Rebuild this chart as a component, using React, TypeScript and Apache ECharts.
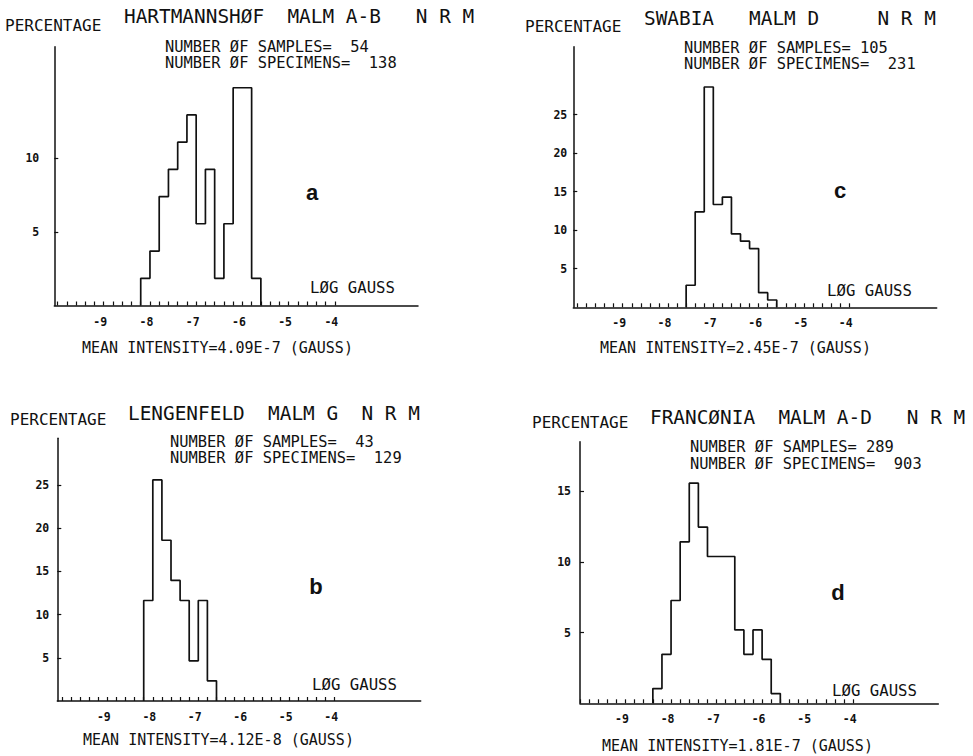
import React, { useEffect, useRef } from "react";
import * as echarts from "echarts";

// ---- Data (percentages per 0.2 log-gauss bin) ----
const binWidth = 0.2;
const aStart = -8.2;
const aValues = [1.85, 3.7, 7.41, 9.26, 11.11, 12.96, 5.56, 9.26, 1.85, 5.56, 14.81, 14.81, 1.85];
const bStart = -8.2;
const bValues = [11.63, 25.58, 18.6, 13.95, 11.63, 4.65, 11.63, 2.33];
const cStart = -7.6;
const cValues = [2.86, 12.38, 28.57, 13.33, 14.29, 9.52, 8.57, 7.62, 1.9, 0.95];
const dStart = -8.4;
const dValues = [1.04, 3.46, 7.27, 11.42, 15.57, 12.46, 10.38, 10.38, 10.38, 5.19, 3.46, 5.19, 3.11, 0.69];

const xTickLabels = [-9, -8, -7, -6, -5, -4];
const aYLabels = [5, 10];
const bYLabels = [5, 10, 15, 20, 25];
const cYLabels = [5, 10, 15, 20, 25];
const dYLabels = [5, 10, 15];

const titles = [
  "HARTMANNSHØF  MALM A-B   N R M",
  "LENGENFELD  MALM G  N R M",
  "SWABIA   MALM D     N R M",
  "FRANCØNIA  MALM A-D   N R M",
];
const sampleCounts = [54, 43, 105, 289];
const specimenCounts = [138, 129, 231, 903];
const meanIntensity = ["4.09E-7", "4.12E-8", "2.45E-7", "1.81E-7"];
const letters = ["a", "b", "c", "d"];

const FONT = "'DejaVu Sans Mono', monospace";
const INK = "#111";

function stepData(start: number, values: number[]) {
  const r = (v: number) => Math.round(v * 100) / 100;
  const pts: number[][] = [[start, 0]];
  values.forEach((v, i) => pts.push([r(start + i * binWidth), v]));
  pts.push([r(start + values.length * binWidth), 0]);
  return pts;
}

const minorTicks: number[] = [];
for (let i = 0; i <= 30; i++) minorTicks.push(Math.round((-10 + i * 0.2) * 10) / 10);

// layout per panel (a, b, c, d)
const grids = [
  { left: 54.3, top: 46.7, width: 363.7, height: 258.8, xmin: -10.07, xmax: -2.2, ymax: 17.6, yMargin: 15 },
  { left: 57.3, top: 438.3, width: 363.4, height: 262.7, xmin: -10.1, xmax: -2.11, ymax: 30.4, yMargin: 8 },
  { left: 573.3, top: 46.7, width: 363.4, height: 260.6, xmin: -10.09, xmax: -2.07, ymax: 33.8, yMargin: 6 },
  { left: 580, top: 441.7, width: 358.3, height: 261.6, xmin: -10.0, xmax: -2.13, ymax: 18.5, yMargin: 9 },
];
const textPos = [
  { perc: [5, 25], title: [124, 16], s: [165, 55, 16.6], letter: [312, 192], log: [310, 287], mean: [82, 348] },
  { perc: [10, 419], title: [128, 413], s: [170, 450, 16.6], letter: [316, 586], log: [312, 684], mean: [83, 740] },
  { perc: [525, 26], title: [644, 18], s: [684, 55.8, 16.6], letter: [840, 190], log: [827, 290], mean: [600, 348] },
  { perc: [532, 422], title: [650, 417], s: [690, 455.5, 17.5], letter: [838, 592], log: [832, 690], mean: [602, 746] },
];

const starts = [aStart, bStart, cStart, dStart];
const valuesList = [aValues, bValues, cValues, dValues];
const yLabelsList = [aYLabels, bYLabels, cYLabels, dYLabels];

function txt(x: number, y: number, text: string, size: number, opts: any = {}) {
  const style: any = {
    text,
    fill: INK,
    font: `${opts.weight || "normal"} ${size}px ${opts.family || FONT}`,
    textAlign: opts.align || "left",
    textVerticalAlign: "middle",
  };
  if (opts.lineHeight) style.lineHeight = opts.lineHeight;
  return { type: "text", x, y, silent: true, style };
}

export default function App() {
  const ref = useRef<HTMLDivElement>(null);
  useEffect(() => {
    if (!ref.current) return;
    const chart = echarts.init(ref.current, null, { renderer: "svg" });
    const graphic: any[] = [];
    textPos.forEach((p, i) => {
      graphic.push(txt(p.perc[0], p.perc[1], "PERCENTAGE", 16));
      graphic.push(txt(p.title[0], p.title[1], titles[i], 19.4));
      graphic.push(
        txt(
          p.s[0],
          p.s[1],
          `NUMBER ØF SAMPLES=${String(sampleCounts[i]).padStart(4)}\nNUMBER ØF SPECIMENS=  ${specimenCounts[i]}`,
          15.4,
          { lineHeight: p.s[2] }
        )
      );
      graphic.push(
        txt(p.letter[0], p.letter[1], letters[i], 22, {
          weight: "bold",
          family: "'Liberation Sans', Arial, sans-serif",
          align: "center",
        })
      );
      graphic.push(txt(p.log[0], p.log[1], "LØG GAUSS", 15.7));
      graphic.push(txt(p.mean[0], p.mean[1], `MEAN INTENSITY=${meanIntensity[i]} (GAUSS)`, 15));
    });

    const option: any = {
      animation: false,
      backgroundColor: "#fff",
      grid: grids.map((g) => ({ left: g.left, top: g.top, width: g.width, height: g.height, containLabel: false })),
      xAxis: grids.map((g, i) => ({
        gridIndex: i,
        type: "value",
        min: g.xmin,
        max: g.xmax,
        axisLine: { show: true, onZero: false, lineStyle: { color: INK, width: 1.5 } },
        axisTick: { show: true, inside: true, length: 4, customValues: minorTicks, lineStyle: { color: INK, width: 1.2 } },
        axisLabel: {
          show: true,
          customValues: xTickLabels,
          margin: 10,
          fontFamily: FONT,
          fontSize: 11.5,
          fontWeight: "bold",
          color: INK,
          padding: [0, 7, 0, 0],
          formatter: (v: number) => String(v),
        },
        splitLine: { show: false },
      })),
      yAxis: grids.map((g, i) => ({
        gridIndex: i,
        type: "value",
        min: 0,
        max: g.ymax,
        axisLine: { show: true, lineStyle: { color: INK, width: 1.5 } },
        axisTick: { show: true, inside: true, length: 4, customValues: yLabelsList[i], lineStyle: { color: INK, width: 1.2 } },
        axisLabel: {
          show: true,
          customValues: yLabelsList[i],
          margin: g.yMargin,
          fontFamily: FONT,
          fontSize: 11.5,
          fontWeight: "bold",
          color: INK,
        },
        splitLine: { show: false },
      })),
      series: grids.map((_, i) => ({
        type: "line",
        xAxisIndex: i,
        yAxisIndex: i,
        step: "end",
        showSymbol: false,
        symbol: "none",
        data: stepData(starts[i], valuesList[i]),
        lineStyle: { color: INK, width: 1.7 },
        silent: true,
      })),
      graphic,
    };
    chart.setOption(option);
    return () => chart.dispose();
  }, []);
  return (
    <div
      ref={ref}
      style={{ position: "absolute", left: 0, top: 0, width: 973, height: 756, background: "#fff" }}
    />
  );
}
